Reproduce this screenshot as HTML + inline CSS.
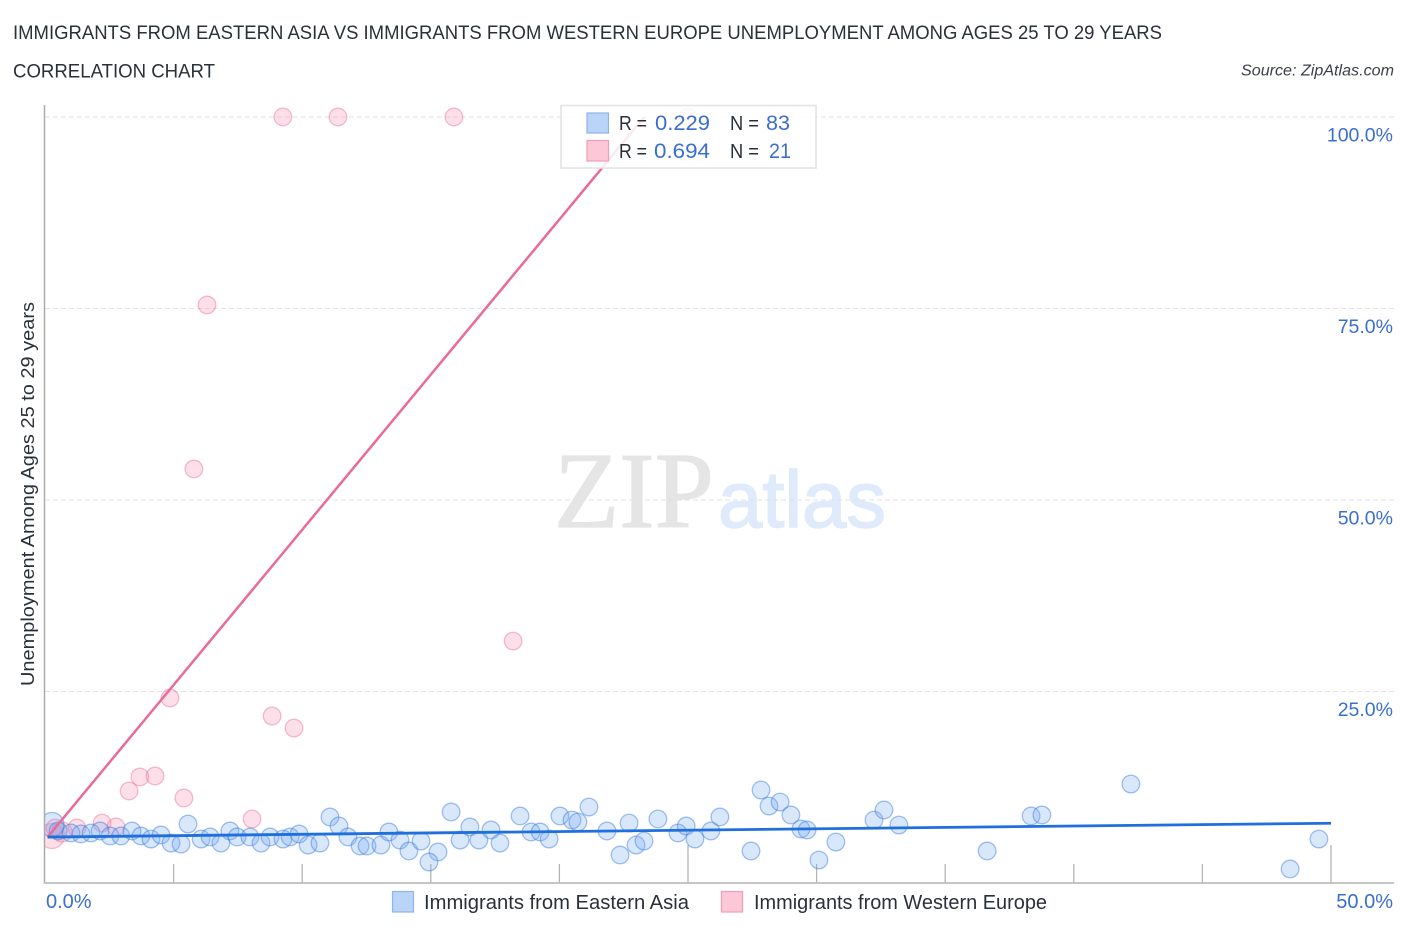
<!DOCTYPE html>
<html lang="en">
<head>
<meta charset="utf-8">
<title>Immigrants from Eastern Asia vs Immigrants from Western Europe Unemployment Correlation Chart</title>
<style>
html,body{margin:0;padding:0;background:#fff;width:1406px;height:930px;overflow:hidden}
svg{display:block;font-family:"Liberation Sans",sans-serif}
</style>
</head>
<body>
<svg id="chart" xmlns="http://www.w3.org/2000/svg" width="1406" height="930" viewBox="0 0 1406 930">
<defs><clipPath id="plot-clip"><rect x="45" y="90" width="1350" height="793"/></clipPath></defs>
<text x="13" y="39" font-size="19.5" fill="#2b3038" textLength="1149" lengthAdjust="spacingAndGlyphs">IMMIGRANTS FROM EASTERN ASIA VS IMMIGRANTS FROM WESTERN EUROPE UNEMPLOYMENT AMONG AGES 25 TO 29 YEARS</text>
<text x="13" y="77.500" font-size="19.5" fill="#2b3038" textLength="202" lengthAdjust="spacingAndGlyphs">CORRELATION CHART</text>
<text x="1241" y="75.500" font-size="15.5" font-style="italic" fill="#3a3f47" textLength="153" lengthAdjust="spacingAndGlyphs">Source: ZipAtlas.com</text>
<text x="554" y="527" font-family="'Liberation Serif',serif" font-size="108" fill="#e5e5e5" stroke="#e5e5e5" stroke-width="1.2" textLength="160" lengthAdjust="spacingAndGlyphs">ZIP</text>
<text x="718" y="527" font-size="80" fill="#dfeafa" stroke="#dfeafa" stroke-width="1.5" textLength="168" lengthAdjust="spacingAndGlyphs">atlas</text>
<g id="grid"></g>
<g id="axes"></g>
<g id="pink-points" clip-path="url(#plot-clip)"></g>
<g id="blue-points" clip-path="url(#plot-clip)"></g>
<g id="trends"></g>
<text transform="translate(34,686) rotate(-90)" font-size="18.5" fill="#2b3038" textLength="384" lengthAdjust="spacingAndGlyphs">Unemployment Among Ages 25 to 29 years</text>
<g>
<rect x="561" y="105.500" width="255" height="62.500" fill="#fff" fill-opacity="0.86" stroke="#e2e2e2" stroke-width="1.500"/>
<rect x="587" y="113" width="21.500" height="20" fill="#b9d4f7" stroke="#8fb4e6" stroke-width="1.200"/>
<rect x="587" y="140.500" width="21.500" height="20.500" fill="#fcc8d8" stroke="#f29cb8" stroke-width="1.200"/>
<g font-size="20" fill="#2b3038">
<text x="619" y="130" textLength="28" lengthAdjust="spacingAndGlyphs">R =</text>
<text x="619" y="158" textLength="28" lengthAdjust="spacingAndGlyphs">R =</text>
<text x="730" y="130" textLength="29" lengthAdjust="spacingAndGlyphs">N =</text>
<text x="730" y="158" textLength="29" lengthAdjust="spacingAndGlyphs">N =</text>
</g>
<g font-size="21" fill="#3a6fd0">
<text x="655" y="130" textLength="55" lengthAdjust="spacingAndGlyphs">0.229</text>
<text x="654" y="158" textLength="56" lengthAdjust="spacingAndGlyphs">0.694</text>
<text x="766" y="130" textLength="24" lengthAdjust="spacingAndGlyphs">83</text>
<text x="769" y="158" textLength="22" lengthAdjust="spacingAndGlyphs">21</text>
</g>
</g>
<g>
<rect x="392.500" y="891.500" width="21" height="20.500" fill="#b9d4f7" stroke="#8fb4e6" stroke-width="1.200"/>
<text x="424" y="909" font-size="20" fill="#2b3038" textLength="265" lengthAdjust="spacingAndGlyphs">Immigrants from Eastern Asia</text>
<rect x="721.500" y="891.500" width="21" height="20.500" fill="#fcc8d8" stroke="#f29cb8" stroke-width="1.200"/>
<text x="754" y="909" font-size="20" fill="#2b3038" textLength="293" lengthAdjust="spacingAndGlyphs">Immigrants from Western Europe</text>
</g>
</svg>
<script>
const blueX = [0.27,0.51,1.01,1.40,1.79,2.14,2.53,2.95,3.38,3.73,4.12,4.51,4.90,5.29,5.56,6.07,6.42,6.84,7.19,7.47,7.97,8.40,8.75,9.25,9.53,9.88,10.23,10.69,11.08,11.43,11.78,12.25,12.52,13.06,13.37,13.80,14.15,14.62,15.28,14.93,15.79,16.14,16.52,16.87,17.34,17.69,18.47,18.90,19.25,19.60,20.02,20.49,20.72,21.15,21.85,22.71,22.36,22.98,23.29,23.83,24.61,24.93,25.27,25.89,26.24,27.45,27.84,28.15,28.58,29.00,29.39,29.63,30.75,30.09,32.23,32.62,33.20,36.63,38.34,38.76,42.22,49.53,48.41];
const blueY = [7.64,6.79,6.53,6.40,6.53,6.79,6.14,6.14,6.79,6.14,5.74,6.27,5.22,5.09,7.70,5.74,6.01,5.22,6.79,6.01,6.01,5.22,6.01,5.74,6.01,6.40,4.96,5.22,8.62,7.44,6.01,4.83,4.83,4.96,6.66,5.61,4.18,5.48,4.05,2.74,9.27,5.61,7.31,5.61,6.92,5.22,8.75,6.66,6.66,5.74,8.75,8.22,7.96,9.92,6.79,7.83,3.66,4.96,5.48,8.36,6.53,7.44,5.74,6.79,8.62,4.18,12.14,10.05,10.57,8.88,7.05,6.92,5.35,3.00,8.22,9.53,7.57,4.18,8.75,8.88,12.92,5.74,1.83];
const pinkX = [0.27,0.39,0.66,1.24,2.22,2.76,3.27,3.69,4.28,4.86,5.40,5.79,6.30,8.05,8.83,9.25,9.68,11.39,15.90,18.20,25.00];
const pinkY = [6.14,7.18,6.66,7.18,7.83,7.31,12.01,13.84,13.97,24.15,11.10,54.05,75.46,8.36,21.80,100,20.23,100,100,31.59,100];
const blueTrendX = [0.1, 50];
const blueTrendY = [6.0, 7.8];
const pinkTrendX = [0.1, 23.3];
const pinkTrendY = [6.0, 100];
const yTickValues = [100, 75, 50, 25];
const yTickLabels = ["100.0%", "75.0%", "50.0%", "25.0%"];
const xTickValues = [5, 10, 15, 20, 25, 30, 35, 40, 45, 50];
const xEndValues = [0, 50];
const xEndLabels = ["0.0%", "50.0%"];

const SVG_NS = "http://www.w3.org/2000/svg";
function xPos(v) { return 45 + v * 25.72; }
function yPos(v) { return 883 - v * 7.66; }
function make(tag, parent, attrs) {
  const el = document.createElementNS(SVG_NS, tag);
  for (const k in attrs) el.setAttribute(k, attrs[k]);
  document.getElementById(parent).appendChild(el);
  return el;
}

yTickValues.forEach(function (v, i) {
  const grid = make("line", "grid", { x1: 45, x2: 1394, y1: yPos(v), y2: yPos(v), stroke: "#e2e2e2", "stroke-width": 1, "stroke-dasharray": "5 3" });
  
  
  const label = make("text", "axes", { x: 1393, y: yPos(v) + 24.5, "text-anchor": "end", "font-size": 19.5, fill: "#3a6fd0" });
  label.textContent = yTickLabels[i];
  
  
});

const yAxis = make("line", "axes", { x1: 44.5, x2: 44.5, y1: 105, y2: 884, stroke: "#ababab", "stroke-width": 1.5 });


const xAxis = make("line", "axes", { x1: 44, x2: 1394, y1: 883, y2: 883, stroke: "#c6c6c6", "stroke-width": 2 });



xTickValues.forEach(function (v) {
  const tall = v % 25 === 0;
  const tick = make("line", "axes", { x1: xPos(v), x2: xPos(v), y1: tall ? 845 : 864, y2: 883, stroke: "#b5b5b5", "stroke-width": 1.3 });
  
  
});

xEndValues.forEach(function (v, i) {
  const label = make("text", "axes", { x: i === 0 ? xPos(v) + 1 : 1393, y: 908, "text-anchor": i === 0 ? "start" : "end", "font-size": 20, fill: "#3a6fd0" });
  label.textContent = xEndLabels[i];
  
  
});

pinkX.forEach(function (v, i) {
  const dot = make("circle", "pink-points", { cx: xPos(v), cy: yPos(pinkY[i]), r: i === 0 ? 12.5 : (i === 2 ? 10 : 8.8), fill: "rgba(245,150,180,0.30)", stroke: "rgba(235,110,150,0.45)", "stroke-width": 1.3 });
  
  
});

blueX.forEach(function (v, i) {
  const dot = make("circle", "blue-points", { cx: xPos(v), cy: yPos(blueY[i]), r: i === 0 ? 12 : 8.8, fill: "rgba(120,170,240,0.28)", stroke: "rgba(50,120,225,0.45)", "stroke-width": 1.3 });
  
  
});

const pinkTrend = make("line", "trends", { x1: xPos(pinkTrendX[0]), y1: yPos(pinkTrendY[0]), x2: xPos(pinkTrendX[1]), y2: yPos(pinkTrendY[1]), stroke: "#e96b98", "stroke-width": 2.5 });


const blueTrend = make("line", "trends", { x1: xPos(blueTrendX[0]), y1: yPos(blueTrendY[0]), x2: xPos(blueTrendX[1]), y2: yPos(blueTrendY[1]), stroke: "#1f6fdc", "stroke-width": 2.8 });


</script>
</body>
</html>
